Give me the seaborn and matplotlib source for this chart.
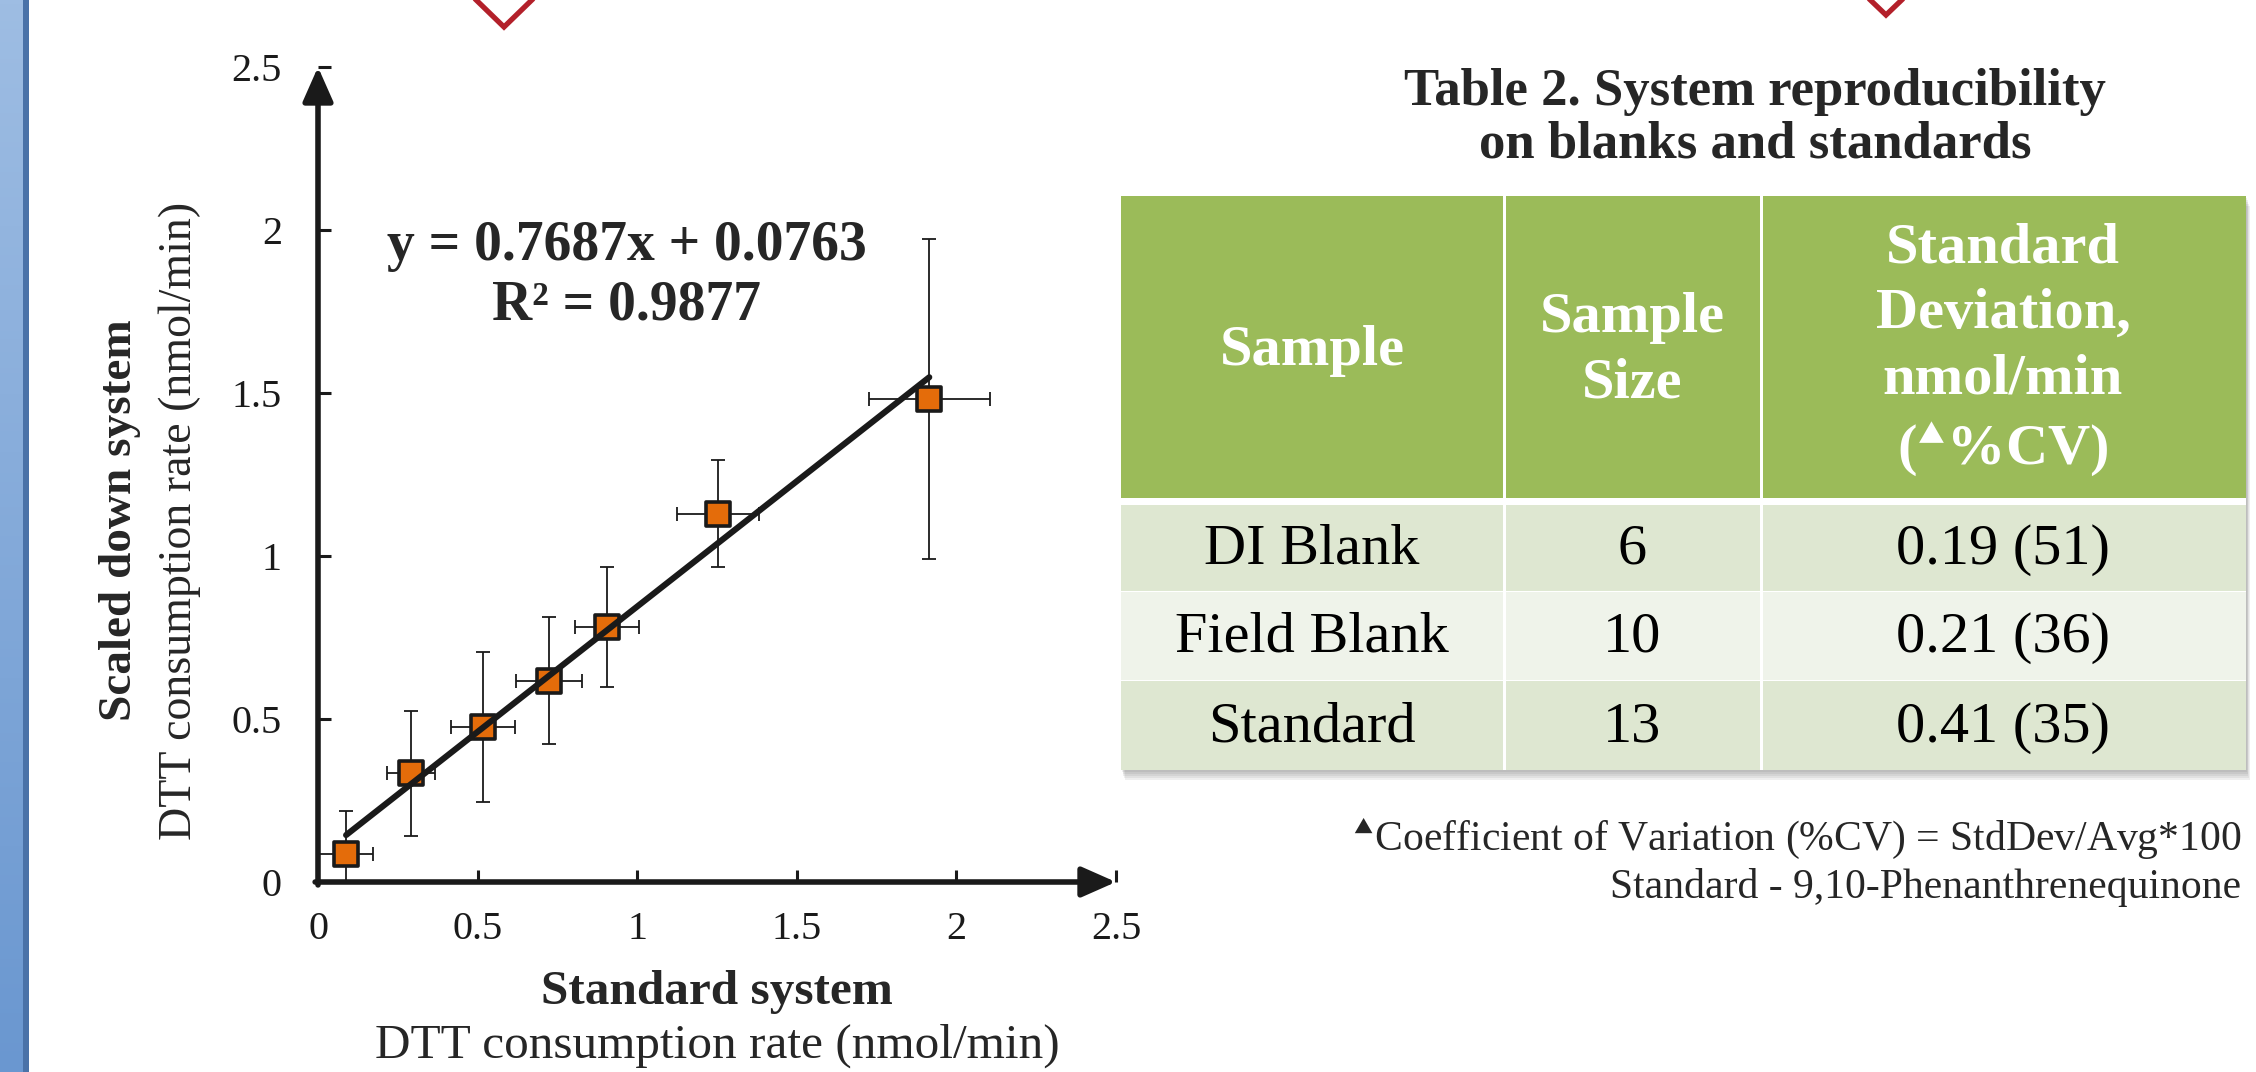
import numpy as np
import matplotlib
matplotlib.use("Agg")
import matplotlib.pyplot as plt
from matplotlib.patches import Rectangle
from matplotlib.colors import LinearSegmentedColormap
import seaborn as sns
import pandas as pd

# scatter data (standard vs scaled down DTT consumption rate, nmol/min)
std_rate = [0.088, 0.29, 0.516, 0.724, 0.905, 1.253, 1.915]
scaled_rate = [0.087, 0.334, 0.475, 0.618, 0.783, 1.129, 1.482]
std_err = [0.085, 0.075, 0.10, 0.104, 0.10, 0.128, 0.19]
scaled_err = [0.13, 0.192, 0.229, 0.196, 0.184, 0.164, 0.49]
fit_slope = 0.7687
fit_icpt = 0.0763
fit_r2 = 0.9877
axis_ticks = [0, 0.5, 1, 1.5, 2, 2.5]
tick_labels = ["0", "0.5", "1", "1.5", "2", "2.5"]

# table 2
tbl_header = ["Sample", "Sample\nSize",
              "Standard\nDeviation,\nnmol/min\n($^{\\blacktriangle}$%CV)"]
tbl_sample = ["DI Blank", "Field Blank", "Standard"]
tbl_size = [6, 10, 13]
tbl_sd = [0.19, 0.21, 0.41]
tbl_cv = [51, 36, 35]

sns.set_theme(style="white")
plt.rcParams['font.family'] = ['Liberation Serif', 'DejaVu Sans']
plt.rcParams['mathtext.fontset'] = 'stix'

df = pd.DataFrame({"std": std_rate, "scaled": scaled_rate})

fig = plt.figure(figsize=(22.56, 10.72), dpi=100)

# background layer in pixel coordinates (poster decorations + table)
bg = fig.add_axes([0, 0, 1, 1], zorder=0)
bg.axis('off')

# blue side bar
grad = np.linspace(0, 1, 256).reshape(-1, 1)
blue_cmap = LinearSegmentedColormap.from_list("bar", ["#9ebde3", "#6a97d0"])
bg.imshow(grad, cmap=blue_cmap, extent=[0, 24, 1072, 0], aspect='auto')
bg.add_patch(Rectangle((23, 0), 6, 1072, fc="#4a72a8", ec='none'))
bg.set_xlim(0, 2256)
bg.set_ylim(1072, 0)

# red chevrons at the top
bg.plot([470, 504, 538], [-6, 27, -6], color="#b3202a", lw=3.8,
        solid_joinstyle='miter')
bg.plot([1862, 1886, 1910], [-8, 15, -8], color="#b3202a", lw=3.8,
        solid_joinstyle='miter')

# ---- scatter plot ----
ax = fig.add_axes([318 / 2256, 1 - 882 / 1072, (1116 - 318) / 2256,
                   (882 - 67) / 1072], zorder=2)
ax.patch.set_alpha(0)

ax.errorbar(std_rate, scaled_rate, xerr=std_err, yerr=scaled_err, fmt='none',
            ecolor="#1a1a1a", elinewidth=1.3, capsize=5, capthick=1.3, zorder=2)
sns.scatterplot(data=df, x="std", y="scaled", marker='s', s=300,
                color="#e46c0a", edgecolor='k', linewidth=2.6, ax=ax,
                zorder=3, legend=False)

fit_x = np.array([min(std_rate), max(std_rate)])
fit_y = fit_slope * fit_x + fit_icpt
sns.lineplot(x=fit_x, y=fit_y, color='k', lw=4.4, ax=ax, zorder=4)

ax.set_xlim(0, 2.5)
ax.set_ylim(0, 2.5)
ax.set_xticks(axis_ticks)
ax.set_xticklabels(tick_labels)
ax.set_yticks(axis_ticks)
ax.set_yticklabels(tick_labels)
ax.set_xlabel("")
ax.set_ylabel("")
for s in ax.spines.values():
    s.set_visible(False)
ax.tick_params(bottom=True, left=True, direction='in', length=9, width=2.2,
               color='k', labelsize=29, labelcolor='k')
ax.tick_params(axis='x', pad=21)
ax.tick_params(axis='y', pad=26)

arrow_kw = dict(arrowstyle='-|>,head_length=0.95,head_width=0.42', lw=4,
                color='k', shrinkA=0, shrinkB=0, mutation_scale=22)
ax.annotate('', xy=(2.5, 0), xytext=(-0.009, 0), arrowprops=arrow_kw,
            annotation_clip=False)
ax.annotate('', xy=(0, 2.5), xytext=(0, -0.009), arrowprops=arrow_kw,
            annotation_clip=False)

# axis titles
bg.text(120, 520, "Scaled down system", rotation=90, ha='center', va='center',
        fontsize=34, fontweight='bold')
bg.text(180, 521, "DTT consumption rate (nmol/min)", rotation=90,
        ha='center', va='center', fontsize=33)
bg.text(717, 1004, "Standard system", ha='center', va='baseline',
        fontsize=35.5, fontweight='bold')
bg.text(717, 1058, "DTT consumption rate (nmol/min)", ha='center',
        va='baseline', fontsize=35.5)

# trendline equation
bg.text(627, 260, f"y = {fit_slope}x + {fit_icpt}", ha='center',
        va='baseline', fontsize=40, fontweight='bold')
bg.text(627, 320, f"R\u00b2 = {fit_r2}", ha='center', va='baseline',
        fontsize=40, fontweight='bold')

# ---- table 2 ----
bg.text(1755, 105, "Table 2. System reproducibility", ha='center',
        va='baseline', fontsize=38, fontweight='bold')
bg.text(1755, 157, "on blanks and standards", ha='center', va='baseline',
        fontsize=38, fontweight='bold')

col_edges = [1121, 1504, 1761, 2246]
col_mid = [1312, 1632, 2003]
head_rows = (196, 498)
body_rows = [(505, 591), (592, 680), (681, 770)]
row_colors = ["#dee7d1", "#eff3ea", "#dee7d1"]

# soft drop shadow
for d in [2, 4, 6, 8, 10]:
    bg.add_patch(Rectangle((col_edges[0] + d * 0.4, head_rows[0] + d),
                           col_edges[-1] - col_edges[0], 770 - head_rows[0],
                           fc='#555555', ec='none', alpha=0.09))
bg.add_patch(Rectangle((col_edges[0], head_rows[0]),
                       col_edges[-1] - col_edges[0], 770 - head_rows[0],
                       fc='white', ec='none'))

for (y0, y1), fc in [(head_rows, "#9bbb59")] + list(zip(body_rows, row_colors)):
    for i in range(3):
        x0 = col_edges[i] + (1.5 if i > 0 else 0)
        x1 = col_edges[i + 1] - (1.5 if i < 2 else 0)
        bg.add_patch(Rectangle((x0, y0), x1 - x0, y1 - y0, fc=fc, ec='none'))

hy = (head_rows[0] + head_rows[1]) / 2 + 4
for i, h in enumerate(tbl_header):
    bg.text(col_mid[i], hy, h, ha='center', va='center', fontsize=42,
            fontweight='bold', color='white', linespacing=1.33)

for r, (y0, y1) in enumerate(body_rows):
    cy = (y0 + y1) / 2 + 2
    cells = [tbl_sample[r], str(tbl_size[r]), f"{tbl_sd[r]:.2f} ({tbl_cv[r]})"]
    for i, c in enumerate(cells):
        bg.text(col_mid[i], cy, c, ha='center', va='center', fontsize=42,
                color='black')

# footnotes
bg.text(2241, 850,
        "$^{\\blacktriangle}$Coefficient of Variation (%CV) = StdDev/Avg*100",
        ha='right', va='baseline', fontsize=30)
bg.text(2241, 898, "Standard - 9,10-Phenanthrenequinone", ha='right',
        va='baseline', fontsize=30)

fig.savefig("out.png", dpi=100)
